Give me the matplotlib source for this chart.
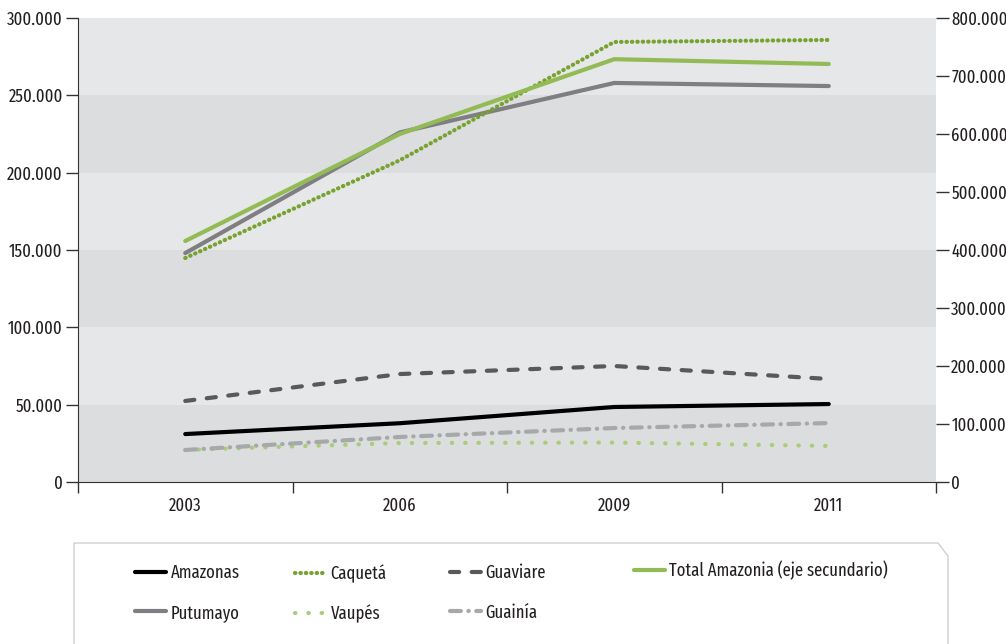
import matplotlib
matplotlib.use("Agg")
import matplotlib.pyplot as plt
from matplotlib.patches import Polygon
from matplotlib.ticker import FuncFormatter

plt.rcParams['font.family'] = ['Fira Sans Extra Condensed', 'DejaVu Sans']

years = ['2003', '2006', '2009', '2011']
amazonas = [31000, 38000, 48500, 50400]
caqueta = [144800, 208000, 284500, 285800]
guaviare = [52400, 69800, 75000, 66600]
putumayo = [148000, 226000, 258000, 256000]
vaupes = [20700, 25200, 25500, 23300]
guainia = [20700, 29100, 34900, 38100]
total = [415500, 600000, 729000, 720700]

left_ticks = [0, 50000, 100000, 150000, 200000, 250000, 300000]
right_ticks = [0, 100000, 200000, 300000, 400000, 500000, 600000, 700000, 800000]

txt = '#231f20'
fs = 13


def miles(v, pos=None):
    if v == 0:
        return '0'
    return f'{int(v):,}'.replace(',', '.')


W, H = 1006, 644
fig = plt.figure(figsize=(W / 100, H / 100), dpi=100)
ax = fig.add_axes([78 / W, 1 - 482 / H, (936 - 78) / W, 464 / H])
ax2 = ax.twinx()

# alternating bands
for i in range(6):
    c = '#dcdddf' if i % 2 == 0 else '#e6e7e8'
    ax.axhspan(i * 50000, (i + 1) * 50000, color=c, lw=0, zorder=0)

x = list(range(len(years)))
ax.plot(x, amazonas, color='black', lw=3, solid_capstyle='round', label='Amazonas')
ax.plot(x, putumayo, color='#7f7f83', lw=3, solid_capstyle='round', label='Putumayo')
ax.plot(x, caqueta, color='#77a22f', lw=3, linestyle=(0, (0.1, 1.2)),
        dash_capstyle='round', label='Caquetá')
ax.plot(x, vaupes, color='#a9cc7a', lw=3, linestyle=(0, (0.1, 3.1)),
        dash_capstyle='round', label='Vaupés')
ax.plot(x, guaviare, color='#58595b', lw=3, linestyle=(0, (2.2, 3.0)),
        dash_capstyle='round', label='Guaviare')
ax.plot(x, guainia, color='#a7a8aa', lw=3, linestyle=(0, (2.6, 1.8, 0.1, 1.8)),
        dash_capstyle='round', label='Guainía')
ax2.plot(x, total, color='#93bb55', lw=3, solid_capstyle='round',
         label='Total Amazonia (eje secundario)')

ax.set_xlim(-0.5, 3.5)
ax.set_ylim(0, 300000)
ax2.set_ylim(0, 800000)
ax.set_yticks(left_ticks)
ax2.set_yticks(right_ticks)
ax.yaxis.set_major_formatter(FuncFormatter(miles))
ax2.yaxis.set_major_formatter(FuncFormatter(miles))

ax.set_xticks([-0.5, 0.5, 1.5, 2.5, 3.5])
ax.set_xticklabels([])
ax.set_xticks(x, minor=True)
ax.set_xticklabels(years, minor=True)
ax.tick_params(axis='x', which='major', length=8, width=1, direction='out', color='#333333')
ax.tick_params(axis='x', which='minor', length=0, pad=21, labelsize=fs, labelcolor=txt)
for lbl in ax.get_xticklabels(minor=True):
    lbl.set_verticalalignment('baseline')
ax.tick_params(axis='y', length=9, width=1, color='#333333', labelsize=fs, labelcolor=txt, pad=2)
ax2.tick_params(axis='y', length=9, width=1, color='#333333', labelsize=fs, labelcolor=txt, pad=2)

for s in ['top', 'right']:
    ax.spines[s].set_visible(False)
for s in ['top', 'right', 'left', 'bottom']:
    ax2.spines[s].set_visible(False)
ax.spines['left'].set_color('#333333')
ax.spines['bottom'].set_color('#333333')

# legend frame with clipped corner
pts = [(74, 650), (74, 543), (938, 543), (948, 556), (948, 650)]
frame = Polygon([(px / W, 1 - py / H) for px, py in pts], closed=True,
                transform=fig.transFigure, facecolor='white', edgecolor='#d0d0d0', lw=1)
fig.patches.append(frame)

h_amz, h_put, h_caq, h_vau, h_gua, h_gun = ax.get_lines()
h_tot = ax2.get_lines()[0]
columns = [([h_amz, h_put], 128), ([h_caq, h_vau], 288), ([h_gua, h_gun], 443), ([h_tot], 627)]
for hs, left in columns:
    top = 553 if hs[0] is h_tot else 557
    leg = fig.legend(hs, [h.get_label() for h in hs], loc='upper left',
                     bbox_to_anchor=(left / W, 1 - top / H), frameon=False,
                     fontsize=fs, handlelength=1.7, handletextpad=0.25,
                     labelspacing=1.2, labelcolor=txt, borderaxespad=0)

fig.savefig('out.png', dpi=100)
